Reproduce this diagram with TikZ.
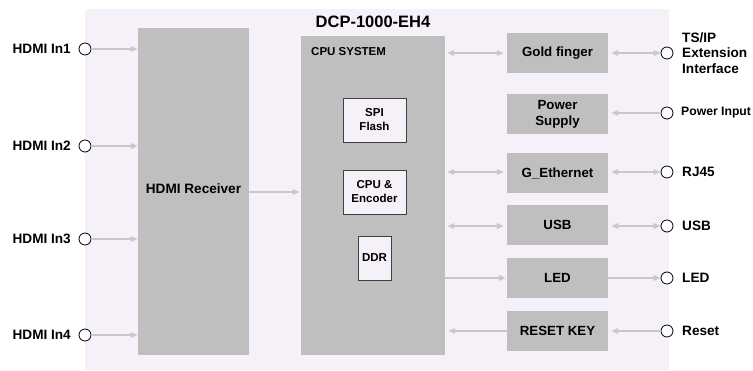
\documentclass[tikz,border=0pt]{standalone}
\usepackage{fontspec}
\setmainfont{Liberation Sans}
\usetikzlibrary{arrows.meta}
\definecolor{bgc}{HTML}{F6F0F8}
\definecolor{boxc}{HTML}{BFBFBF}
\definecolor{arrc}{HTML}{C8C8C8}
\begin{document}
\begin{tikzpicture}[x=1pt,y=-1pt,
  blk/.style={fill=boxc,draw=none,inner sep=0pt,font=\bfseries\fontsize{13.3}{16}\selectfont,align=center},
  rblk/.style={blk,minimum width=101pt,minimum height=40pt},
  sub/.style={fill=bgc,draw=black!75,line width=0.6pt,inner sep=0pt,font=\bfseries\fontsize{11.5}{14}\selectfont,align=center},
  port/.style={circle,draw=black,fill=white,line width=0.8pt,minimum size=12pt,inner sep=0pt},
  lbl/.style={font=\bfseries\fontsize{13.6}{15.5}\selectfont,inner sep=0pt,align=left},
  arr/.style={draw=arrc,line width=1.5pt,-{Triangle[length=7pt,width=5.5pt]}},
  darr/.style={draw=arrc,line width=1.5pt,{Triangle[length=7pt,width=5.5pt]}-{Triangle[length=7pt,width=5.5pt]}},
]
\useasboundingbox (0,0) rectangle (753,371);
\fill[bgc] (85,9) rectangle (669,370);
% title
\node[font=\bfseries\fontsize{16.5}{18}\selectfont,inner sep=0pt] (title) at (373,22) {DCP-1000-EH4};
% HDMI receiver
\node[blk,minimum width=111pt,minimum height=327pt] (recv) at (193.5,191.5) {};
\node[lbl] (recvtxt) at (193.5,189) {HDMI Receiver};
% CPU system
\node[blk,minimum width=144pt,minimum height=319pt] (cpu) at (373,195.5) {};
\node[font=\bfseries\fontsize{11.5}{13}\selectfont,inner sep=0pt,anchor=west] (cputxt) at (311,52) {CPU SYSTEM};
\node[sub,minimum width=63pt,minimum height=44pt] (spi) at (374.5,120) {SPI\\Flash};
\node[sub,minimum width=63pt,minimum height=44pt] (enc) at (374.5,192) {CPU \&\\Encoder};
\node[sub,minimum width=33pt,minimum height=44pt] (ddr) at (374.5,258) {DDR};
% right blocks
\node[rblk] (gold) at (557.5,53) {Gold finger};
\node[rblk] (power) at (557.5,114) {Power\\Supply};
\node[rblk] (eth) at (557.5,173) {G\_Ethernet};
\node[rblk] (usb) at (557.5,225) {USB};
\node[rblk] (led) at (557.5,278) {LED};
\node[rblk] (reset) at (557.5,331) {RESET KEY};
% left ports
\node[port] (in1) at (85,49) {};
\node[port] (in2) at (85,146) {};
\node[port] (in3) at (85,239) {};
\node[port] (in4) at (85,335) {};
\node[lbl,anchor=east] (lin1) at (71,49) {HDMI In1};
\node[lbl,anchor=east] (lin2) at (71,146) {HDMI In2};
\node[lbl,anchor=east] (lin3) at (71,239) {HDMI In3};
\node[lbl,anchor=east] (lin4) at (71,335) {HDMI In4};
% right ports
\node[port] (pgold) at (667,53) {};
\node[port] (ppow) at (667,113) {};
\node[port] (peth) at (667,172) {};
\node[port] (pusb) at (667,226) {};
\node[port] (pled) at (667,278) {};
\node[port] (prst) at (667,331) {};
\node[lbl,anchor=west] (lgold) at (682,53) {TS/IP\\Extension\\Interface};
\node[lbl,anchor=west,font=\bfseries\fontsize{12.2}{14}\selectfont] (lpow) at (681,113) {Power Input};
\node[lbl,anchor=west] (leth) at (682,172) {RJ45};
\node[lbl,anchor=west] (lusb) at (682,226) {USB};
\node[lbl,anchor=west] (lled) at (682,278) {LED};
\node[lbl,anchor=west] (lrst) at (682,331) {Reset};
% left arrows
\foreach \p in {in1,in2,in3,in4}
  \draw[arr] (\p.east) -- (recv.west |- \p);
\draw[arr] (recv.east |- 0,192) -- ([xshift=-1pt]cpu.west |- 0,192);
% cpu <-> right blocks
\draw[darr] ([xshift=2pt]cpu.east |- gold) -- ([xshift=-3pt]gold.west);
\draw[darr] ([xshift=2pt]cpu.east |- pusb) -- ([xshift=-3pt]usb.west |- pusb);
\draw[darr] ([xshift=2pt]cpu.east |- peth) -- ([xshift=-3pt]eth.west |- peth);
\draw[arr] (cpu.east |- led) -- ([xshift=-1pt]led.west);
\draw[arr] (reset.west) -- ([xshift=3pt]cpu.east |- reset);
% right blocks <-> ports
\draw[darr] ([xshift=3pt]gold.east) -- (pgold.west);
\draw[arr] (ppow.west) -- ([xshift=3pt]power.east |- ppow);
\draw[darr] ([xshift=3pt]eth.east |- peth) -- (peth.west);
\draw[darr] ([xshift=3pt]usb.east |- pusb) -- (pusb.west);
\draw[arr] (led.east) -- (pled.west);
\draw[arr] (prst.west) -- ([xshift=3pt]reset.east);
\end{tikzpicture}
\end{document}
